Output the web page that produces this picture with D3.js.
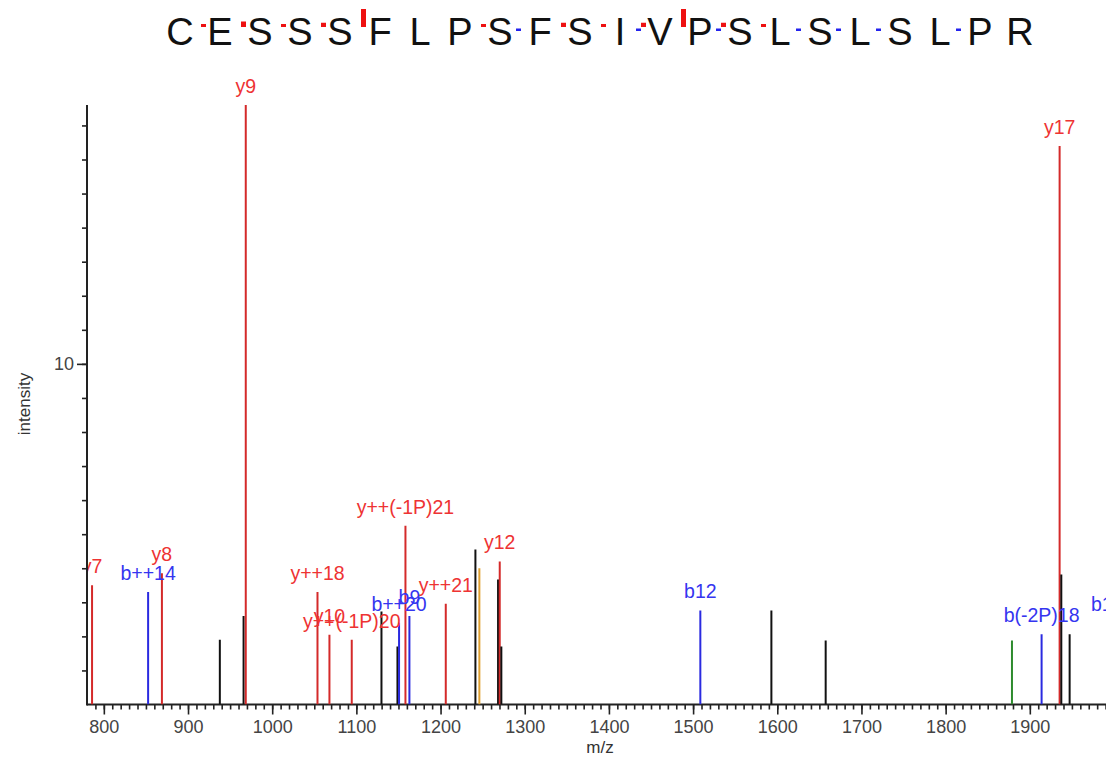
<!DOCTYPE html>
<html>
<head>
<meta charset="utf-8">
<script src="https://cdn.jsdelivr.net/npm/d3@7"></script>
<style>
  html, body { margin: 0; padding: 0; background: #fff; overflow: hidden; }
  svg { display: block; font-family: "Liberation Sans", Arial, Helvetica, sans-serif; }
</style>
</head>
<body>
<svg id="chart" width="1106" height="762"></svg>
<script>
// ---- data ----
const sequence = ["C","E","S","S","S","F","L","P","S","F","S","I","V","P","S","L","S","L","S","L","P","R"];
// gap index (after residue n) -> fragment marker strength
const yIonGaps = [1, 2, 3, 4, 5, 8, 10, 11, 12, 13, 14, 15];
const yIonStrength = [1, 2, 1, 1.5, 5, 1, 1.5, 1, 1.5, 5, 1.5, 1];
const bIonGaps = [9, 12, 14, 16, 17, 18, 20];

const peakMz = [786, 852.6, 869, 937.8, 966, 968.6, 1053.8, 1068, 1094.5, 1129.8, 1148.8, 1150.7, 1158.3, 1163, 1206.2, 1241.4, 1246.1, 1268.3, 1270.3, 1272.2, 1508.6, 1593, 1657.5, 1878.8, 1914, 1935.4, 1937.4, 1947.3, 1992];
const peakIntensity = [3.5, 3.3, 3.85, 1.9, 2.6, 17.6, 3.3, 2.05, 1.9, 2.73, 1.7, 2.4, 5.25, 2.6, 2.96, 4.55, 4.0, 3.67, 4.2, 1.7, 2.76, 2.76, 1.88, 1.88, 2.06, 16.4, 3.82, 2.06, 2.4];
const peakType = ["y","b","y","u","u","y","y","y","y","u","u","b","y","b","y","u","o","u","y","u","b","u","u","g","b","y","u","u","b"];
const peakLabel = ["y7","b++14","y8","","","y9","y++18","y10","y++(-1P)20","","","b++20","y++(-1P)21","b9","y++21","","","","y12","","b12","","","","b(-2P)18","y17","","","b19"];

const xMajorTicks = [800, 900, 1000, 1100, 1200, 1300, 1400, 1500, 1600, 1700, 1800, 1900];
const yLabelTicks = [10];
const xTitle = "m/z";
const yTitle = "intensity";

// ---- styles ----
const lineColor = { y: "#d42a2a", b: "#2a2ae0", u: "#111111", o: "#e0a030", g: "#2e8b2e" };
const labelColor = { y: "#ee3333", b: "#3535f0" };

const svg = d3.select("#chart");
const plotLeft = 87, plotBottom = 704.5, plotTop = 105;

const x = d3.scaleLinear().domain([780, 2010]).range([plotLeft, plotLeft + 1230 * 0.8418]);
const y = d3.scaleLinear().domain([0, 17.6]).range([plotBottom, plotTop]);

// clip
svg.append("defs").append("clipPath").attr("id", "plotclip")
  .append("rect").attr("x", plotLeft + 1).attr("y", 0).attr("width", 1106 - plotLeft).attr("height", plotBottom);

// ---- title sequence ----
const seqX = d3.scaleLinear().domain([0, sequence.length - 1]).range([180, 1020]);
const title = svg.append("g");
title.selectAll("text").data(sequence).join("text")
  .attr("x", (d, i) => seqX(i)).attr("y", 45)
  .attr("text-anchor", "middle")
  .attr("font-size", 38).attr("fill", "#111")
  .text(d => d);
title.selectAll("rect.yi").data(yIonGaps).join("rect")
  .attr("class", "yi")
  .attr("x", (d) => seqX(d - 0.5) + 1)
  .attr("width", 5)
  .attr("y", (d, i) => yIonStrength[i] >= 5 ? 9 : 27 - 2.5 * yIonStrength[i] - 0.5)
  .attr("height", (d, i) => yIonStrength[i] >= 5 ? 18 : 2.5 * yIonStrength[i] + 0.5)
  .attr("fill", "#ee1111");
title.selectAll("rect.bi").data(bIonGaps).join("rect")
  .attr("class", "bi")
  .attr("x", (d) => seqX(d - 0.5) - 4)
  .attr("width", 5)
  .attr("y", 28.5).attr("height", 2.5)
  .attr("fill", "#2222ee");

// ---- axes ----
const xMinor = d3.range(790, 2011, 10);
const gx = svg.append("g").attr("transform", `translate(0,${plotBottom})`);
gx.call(d3.axisBottom(x).tickValues(xMinor).tickSize(5).tickFormat(""))
  .call(g => g.select(".domain").remove());
gx.append("g").call(d3.axisBottom(x).tickValues(xMajorTicks).tickSize(10).tickPadding(6).tickFormat(d3.format("d")))
  .call(g => g.select(".domain").remove());
gx.selectAll("line").attr("stroke", "#222").attr("stroke-width", 1.6);
gx.selectAll("text").attr("font-size", 18).attr("fill", "#444").attr("font-family", "Liberation Sans, Arial, sans-serif");
svg.append("line").attr("x1", plotLeft).attr("x2", 1106).attr("y1", plotBottom).attr("y2", plotBottom)
  .attr("stroke", "#222").attr("stroke-width", 2);

const gy = svg.append("g").attr("transform", `translate(${plotLeft},0)`);
gy.call(d3.axisLeft(y).tickValues(d3.range(1, 18)).tickSize(5).tickFormat(""))
  .call(g => g.select(".domain").remove());
gy.append("g").call(d3.axisLeft(y).tickValues(yLabelTicks).tickSize(10).tickPadding(3).tickFormat(d3.format("d")))
  .call(g => g.select(".domain").remove());
gy.selectAll("line").attr("stroke", "#222").attr("stroke-width", 1.6);
gy.selectAll("text").attr("font-size", 18).attr("fill", "#444").attr("font-family", "Liberation Sans, Arial, sans-serif");
svg.append("line").attr("x1", plotLeft).attr("x2", plotLeft).attr("y1", plotTop).attr("y2", plotBottom + 1)
  .attr("stroke", "#222").attr("stroke-width", 2);

svg.append("text").attr("x", 600).attr("y", 753).attr("text-anchor", "middle")
  .attr("font-size", 17).attr("fill", "#333").text(xTitle);
svg.append("text").attr("transform", "translate(30,404) rotate(-90)").attr("text-anchor", "middle")
  .attr("font-size", 17).attr("fill", "#333").text(yTitle);

// ---- peaks ----
const peaks = peakMz.map((m, i) => ({ mz: m, v: peakIntensity[i], t: peakType[i], l: peakLabel[i] }));
const plot = svg.append("g").attr("clip-path", "url(#plotclip)");
plot.selectAll("line").data(peaks).join("line")
  .attr("x1", d => x(d.mz)).attr("x2", d => x(d.mz))
  .attr("y1", y(0)).attr("y2", d => y(d.v))
  .attr("stroke", d => lineColor[d.t]).attr("stroke-width", 2);
plot.selectAll("text").data(peaks.filter(d => d.l)).join("text")
  .attr("x", d => x(d.mz)).attr("y", d => y(d.v) - 12)
  .attr("text-anchor", "middle").attr("font-size", 19.5)
  .attr("fill", d => labelColor[d.t]).text(d => d.l);
</script>
</body>
</html>
